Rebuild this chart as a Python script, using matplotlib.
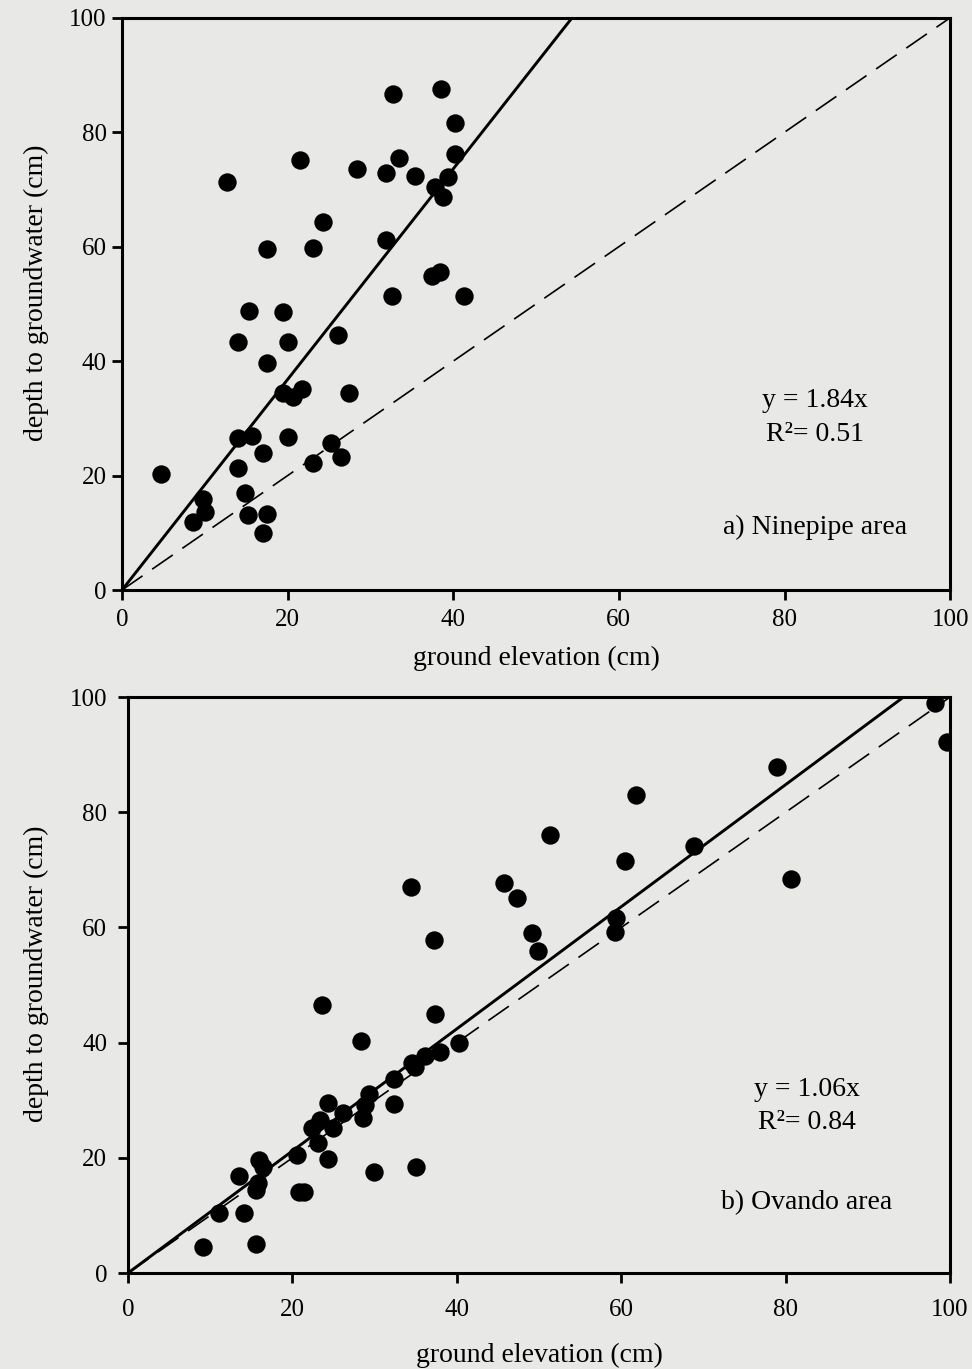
import numpy as np
import matplotlib
matplotlib.use("Agg")
from matplotlib import pyplot as plt

# a) Ninepipe area
ninepipe_x = [32.7, 38.5, 40.2, 21.5, 12.7, 28.4, 31.9, 33.5, 35.4, 40.2, 39.4, 37.8,
              38.8, 24.3, 17.5, 23.1, 31.9, 37.4, 38.4, 32.6, 41.3, 15.3, 19.4, 14.0,
              20.0, 26.1, 17.5, 19.4, 20.7, 21.7, 27.4, 14.0, 15.7, 20.0, 17.0, 25.2,
              23.1, 26.4, 4.7, 14.0, 14.9, 9.8, 10.0, 8.6, 15.2, 17.5, 17.0]
ninepipe_y = [86.7, 87.6, 81.6, 75.2, 71.3, 73.6, 72.9, 75.5, 72.4, 76.2, 72.2, 70.5,
              68.7, 64.3, 59.6, 59.8, 61.2, 54.9, 55.6, 51.4, 51.4, 48.8, 48.6, 43.4,
              43.4, 44.6, 39.7, 34.4, 33.7, 35.1, 34.4, 26.6, 26.9, 26.8, 24.0, 25.7,
              22.2, 23.2, 20.3, 21.3, 17.0, 15.9, 13.6, 11.9, 13.1, 13.3, 10.0]
ninepipe_slope = 1.84
ninepipe_r2 = 0.51

# b) Ovando area
ovando_x = [98.2, 99.6, 78.9, 61.8, 68.9, 60.4, 80.7, 59.4, 59.3, 51.3, 34.4, 45.8,
            47.3, 37.2, 49.2, 49.9, 23.6, 37.3, 28.4, 40.3, 37.9, 36.1, 34.9, 34.5,
            32.3, 32.3, 29.3, 28.8, 28.6, 26.1, 24.3, 23.3, 24.9, 22.4, 23.1, 24.3,
            20.5, 15.9, 16.4, 13.5, 15.8, 15.6, 20.8, 21.4, 29.9, 35.0, 11.1, 14.1,
            9.1, 15.6]
ovando_y = [99.0, 92.2, 87.8, 83.0, 74.1, 71.5, 68.5, 61.7, 59.3, 76.0, 67.0, 67.7,
            65.2, 57.9, 59.1, 56.0, 46.6, 44.9, 40.3, 40.0, 38.3, 37.6, 35.7, 36.5,
            33.7, 29.4, 31.0, 29.2, 27.0, 27.8, 29.6, 26.6, 25.2, 25.2, 22.6, 19.8,
            20.5, 19.7, 18.4, 16.9, 15.7, 14.4, 14.1, 14.1, 17.6, 18.4, 10.4, 10.4,
            4.5, 5.0]
ovando_slope = 1.06
ovando_r2 = 0.84

ticks = [0, 20, 40, 60, 80, 100]

plt.rcParams['font.family'] = ['Liberation Serif', 'DejaVu Serif']
bg = '#e8e8e6'

fig = plt.figure(figsize=(9.72, 13.69), dpi=100, facecolor=bg)


def panel(rect, xs, ys, slope, r2, name, text_pos, xpad, ypad, xlab_y, ylab_x):
    ax = fig.add_axes(rect, facecolor=bg)
    ax.scatter(xs, ys, s=175, color='black', zorder=3, linewidths=0)
    xl = np.array([0, 100 / slope])
    ax.plot(xl, slope * xl, color='black', lw=2.1, zorder=2)
    ax.plot([0, 100], [0, 100], color='black', lw=1.2, dashes=(15, 7), zorder=2)
    ax.set_xlim(0, 100)
    ax.set_ylim(0, 100)
    ax.set_xticks(ticks)
    ax.set_yticks(ticks)
    for s in ax.spines.values():
        s.set_linewidth(2.2)
    ax.tick_params(direction='out', length=7, width=2, labelsize=18)
    ax.tick_params(axis='x', pad=xpad)
    ax.tick_params(axis='y', pad=ypad)
    ax.set_xlabel('ground elevation (cm)', fontsize=20)
    ax.set_ylabel('depth to groundwater (cm)', fontsize=20)
    ax.xaxis.set_label_coords(0.5, xlab_y)
    ax.yaxis.set_label_coords(ylab_x, 0.52)
    tx, ty1, ty2, ty3 = text_pos
    ax.text(tx, ty1, f'y = {slope:.2f}x', fontsize=20, ha='center', va='center')
    ax.text(tx, ty2, f'R²= {r2:.2f}', fontsize=20, ha='center', va='center')
    ax.text(tx, ty3, name, fontsize=20, ha='center', va='center')
    return ax


panel([0.1255, 0.569, 0.852, 0.418], ninepipe_x, ninepipe_y, ninepipe_slope, ninepipe_r2,
      'a) Ninepipe area', (83.7, 33.2, 27.2, 11.0), 7, 4, -0.098, -0.088)
panel([0.1317, 0.0701, 0.8457, 0.4207], ovando_x, ovando_y, ovando_slope, ovando_r2,
      'b) Ovando area', (82.6, 31.8, 26.1, 12.3), 12, 8, -0.122, -0.096)

fig.savefig('out.png', dpi=100, facecolor=bg)
